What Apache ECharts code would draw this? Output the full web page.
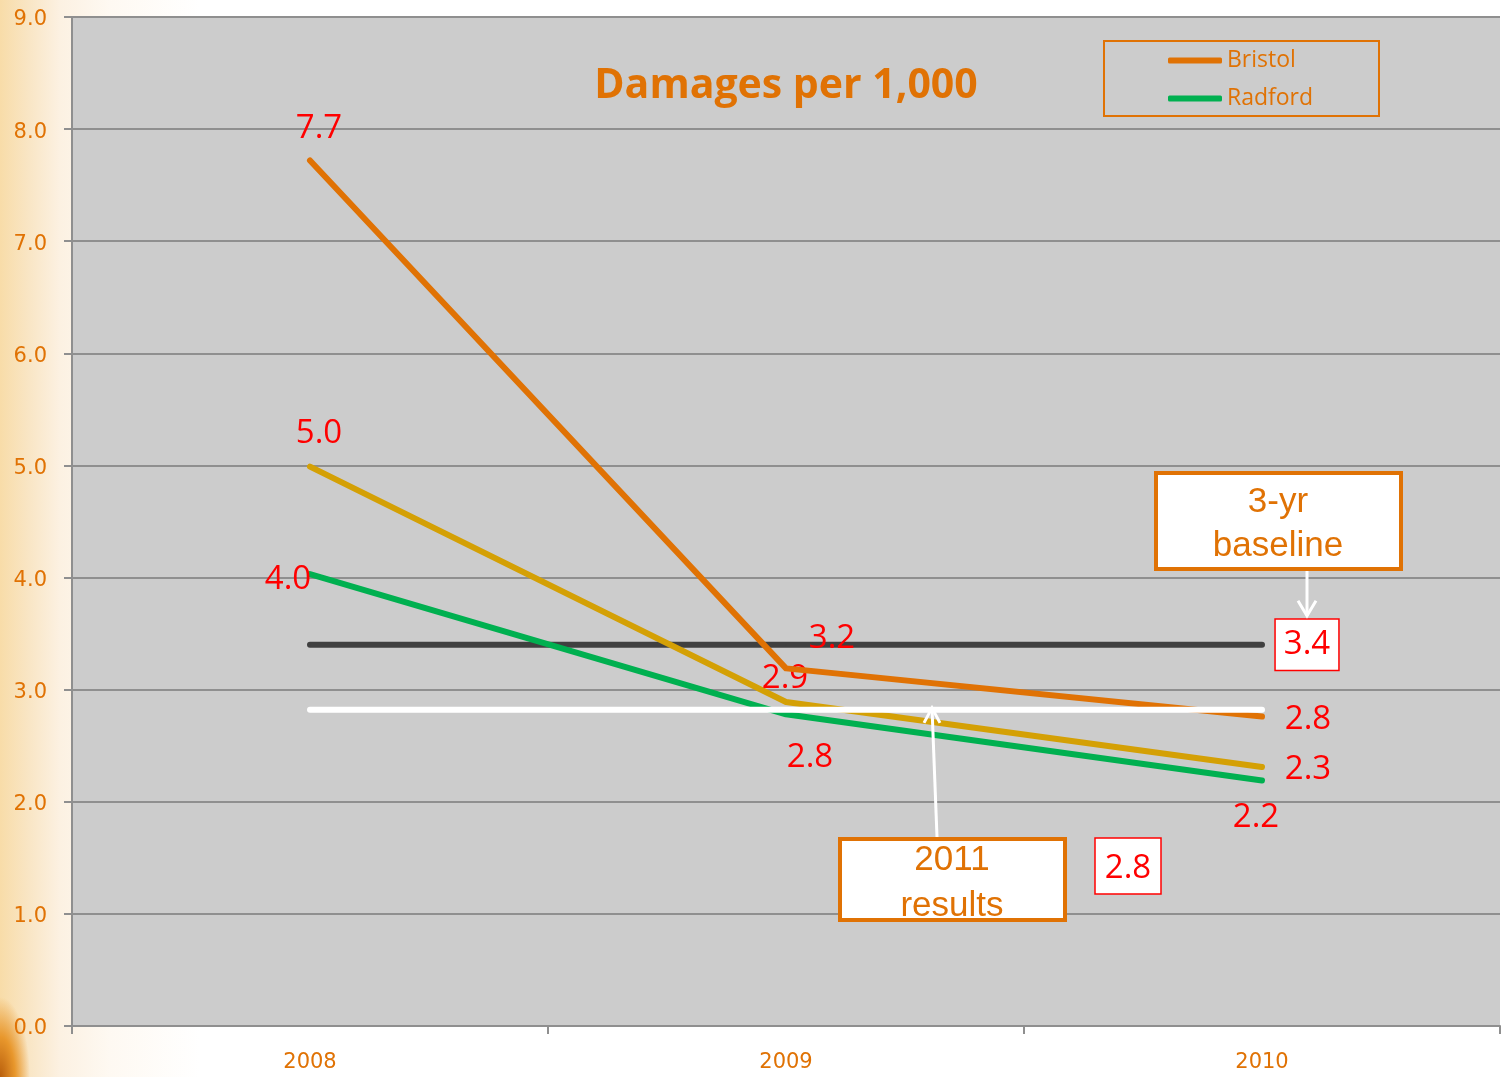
<!DOCTYPE html>
<html>
<head>
<meta charset="utf-8">
<script src="https://cdn.jsdelivr.net/npm/echarts@6/dist/echarts.min.js"></script>
<style>
  html, body { margin: 0; padding: 0; }
  body {
    width: 1505px; height: 1077px; overflow: hidden;
    background:
      radial-gradient(ellipse 30px 80px at 0px 1077px, #b85e0c 0%, #e8972c 50%, rgba(250,220,160,0) 100%),
      linear-gradient(to right, #f8dca8 0px, #f9e6c6 30px, #fcf1e2 60px, #fef9f2 110px, #ffffff 200px);
  }
  #chart { width: 1505px; height: 1077px; }
</style>
</head>
<body>
<div id="chart"></div>
<script>
// data
const years = ['2008', '2009', '2010'];
const bristol = [7.72, 3.19, 2.76];
const combined = [4.99, 2.89, 2.31];
const radford = [4.03, 2.78, 2.19];
const baseline3yr = [3.4, 3.4, 3.4];
const results2011 = [2.82, 2.82, 2.82];
const yTicks = [0, 9, 1]; // min, max, interval

// where each value label sits relative to its point
const bristolLabelOffsets = [[9, -32], [46, -30], [46, 3]];
const combinedLabelOffsets = [[9, -33], [-1, -23], [46, 3]];
const radfordLabelOffsets = [[-22, 5], [24, 43], [-6, 37]];

const ORANGE = '#e07204';
const GOLD = '#d4a005';
const GREEN = '#00b050';
const RED = '#ff0000';
const GRID_GRAY = '#8f8f8f';

function withLabels(values, offsets) {
  return values.map((v, i) => ({
    value: v,
    label: { show: true, offset: offsets[i] }
  }));
}

const valueLabel = {
  position: 'inside',
  align: 'center',
  verticalAlign: 'middle',
  color: RED,
  fontFamily: 'Open Sans',
  fontSize: 33,
  formatter: p => p.value.toFixed(1)
};

function lineSeries(name, data, color, z) {
  return {
    name: name,
    type: 'line',
    data: data,
    symbol: 'circle',
    symbolSize: 1,
    itemStyle: { color: color },
    lineStyle: { color: color, width: 6, cap: 'round', join: 'round' },
    label: valueLabel,
    z: z,
    animation: false
  };
}

const chart = echarts.init(document.getElementById('chart'));

chart.setOption({
  backgroundColor: 'transparent',
  animation: false,
  title: {
    text: 'Damages per 1,000',
    left: 781,
    top: 61,
    textAlign: 'center',
    textStyle: { color: ORANGE, fontFamily: 'Open Sans', fontWeight: 'bold', fontSize: 41 }
  },
  legend: {
    data: ['Bristol', 'Radford'],
    orient: 'vertical',
    left: 1168,
    top: 49,
    padding: 0,
    icon: 'roundRect',
    itemWidth: 54,
    itemHeight: 6,
    itemGap: 15,
    textStyle: { color: ORANGE, fontFamily: 'Open Sans', fontSize: 23, padding: [0, 0, 0, 0] }
  },
  grid: {
    left: 72, right: 5, top: 17, bottom: 51,
    show: true, backgroundColor: '#cccccc', borderWidth: 0
  },
  xAxis: {
    type: 'category',
    data: years,
    boundaryGap: true,
    axisLine: { lineStyle: { color: GRID_GRAY, width: 2 } },
    axisTick: { show: true, length: 8, lineStyle: { color: GRID_GRAY, width: 2 } },
    axisLabel: { color: ORANGE, fontFamily: 'DejaVu Sans', fontSize: 21, margin: 26 },
    splitLine: { show: false }
  },
  yAxis: {
    type: 'value',
    min: yTicks[0],
    max: yTicks[1],
    interval: yTicks[2],
    axisLine: { show: true, lineStyle: { color: GRID_GRAY, width: 2 } },
    axisTick: { show: true, length: 8, lineStyle: { color: GRID_GRAY, width: 2 } },
    axisLabel: {
      margin: 25,
      formatter: v => '{t|' + v.toFixed(1) + '}',
      rich: {
        t: { color: ORANGE, fontFamily: 'DejaVu Sans', fontSize: 21, padding: [6, 0, 0, 0] }
      }
    },
    splitLine: { show: true, lineStyle: { color: GRID_GRAY, width: 2 } }
  },
  series: [
    {
      name: '3-yr baseline',
      type: 'line',
      data: baseline3yr.map((v, i) => i === baseline3yr.length - 1 ? {
        value: v,
        label: {
          show: true, position: 'inside', offset: [45, 0],
          align: 'center', verticalAlign: 'middle',
          color: RED, fontFamily: 'Open Sans', fontSize: 33, lineHeight: 40,
          backgroundColor: '#ffffff', borderColor: RED, borderWidth: 1.5,
          padding: [8, 8, 2, 8],
          formatter: p => p.value.toFixed(1)
        }
      } : v),
      symbol: 'circle',
      symbolSize: 1,
      itemStyle: { color: '#404040' },
      lineStyle: { color: '#404040', width: 6, cap: 'round' },
      z: 2
    },
    lineSeries('Bristol', withLabels(bristol, bristolLabelOffsets), ORANGE, 4),
    lineSeries('Combined', withLabels(combined, combinedLabelOffsets), GOLD, 3),
    lineSeries('Radford', withLabels(radford, radfordLabelOffsets), GREEN, 3),
    {
      name: '2011 results',
      type: 'line',
      data: results2011,
      symbol: 'none',
      lineStyle: { color: '#ffffff', width: 6, cap: 'round' },
      z: 5
    }
  ]
});

// annotation boxes and arrows, anchored on the baseline / results lines
const yBase = chart.convertToPixel({ yAxisIndex: 0 }, baseline3yr[2]);
const yRes = chart.convertToPixel({ yAxisIndex: 0 }, results2011[1]);
const xEnd = chart.convertToPixel({ xAxisIndex: 0 }, years[2]) + 45;

const boxText = {
  fill: ORANGE, fontFamily: 'Liberation Sans', fontSize: 35,
  align: 'center', verticalAlign: 'middle', lineHeight: 44
};

chart.setOption({
  graphic: [
    // legend frame
    { type: 'rect', shape: { x: 1104, y: 41, width: 275, height: 75 },
      style: { fill: 'none', stroke: ORANGE, lineWidth: 2 }, z: 10 },
    // 3-yr baseline box
    { type: 'rect', shape: { x: 1156, y: 473, width: 245, height: 96 },
      style: { fill: '#ffffff', stroke: ORANGE, lineWidth: 4 }, z: 10 },
    { type: 'text', x: 1278, y: 524, style: Object.assign({ text: '3-yr\nbaseline' }, boxText), z: 11 },
    { type: 'polyline', shape: { points: [[xEnd, 571], [xEnd, yBase - 29]] },
      style: { stroke: '#ffffff', lineWidth: 3, fill: 'none' }, z: 11 },
    { type: 'polyline', shape: { points: [[xEnd - 9, yBase - 44], [xEnd, yBase - 29], [xEnd + 9, yBase - 44]] },
      style: { stroke: '#ffffff', lineWidth: 3, fill: 'none' }, z: 11 },
    // 2011 results box
    { type: 'rect', shape: { x: 840, y: 839, width: 225, height: 81 },
      style: { fill: '#ffffff', stroke: ORANGE, lineWidth: 4 }, z: 10 },
    { type: 'text', x: 952, y: 883, style: Object.assign({}, boxText, { text: '2011\nresults', lineHeight: 46 }), z: 11 },
    { type: 'polyline', shape: { points: [[937, 837], [932, yRes - 2]] },
      style: { stroke: '#ffffff', lineWidth: 3, fill: 'none' }, z: 11 },
    { type: 'polyline', shape: { points: [[924, yRes + 13], [932, yRes - 2], [940, yRes + 13]] },
      style: { stroke: '#ffffff', lineWidth: 3, fill: 'none' }, z: 11 },
    // 2011 value box
    { type: 'rect', shape: { x: 1095, y: 838, width: 66, height: 56 },
      style: { fill: '#ffffff', stroke: RED, lineWidth: 1.5 }, z: 10 },
    { type: 'text', x: 1128, y: 869,
      style: { text: results2011[1].toFixed(1), fill: RED, fontFamily: 'Open Sans', fontSize: 33,
               align: 'center', verticalAlign: 'middle' }, z: 11 }
  ]
});
</script>
</body>
</html>
